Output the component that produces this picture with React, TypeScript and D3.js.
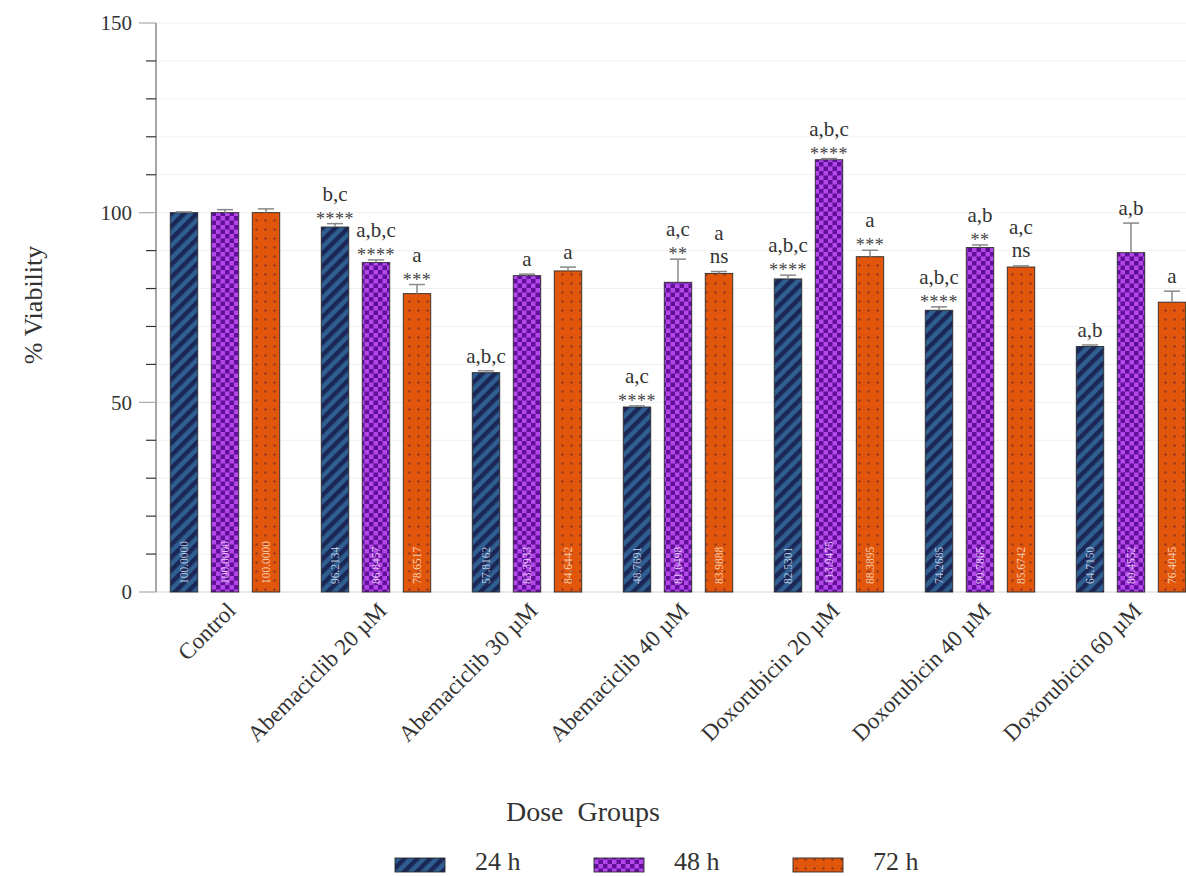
import React from "react";
import * as d3 from "d3";

// Dose groups and time points
const groups = [
  "Control",
  "Abemaciclib 20 µM",
  "Abemaciclib 30 µM",
  "Abemaciclib 40 µM",
  "Doxorubicin 20 µM",
  "Doxorubicin 40 µM",
  "Doxorubicin 60 µM",
];
const timePoints = ["24 h", "48 h", "72 h"];

// Mean % viability per time point
const viability24 = [100.0, 96.2134, 57.8162, 48.7691, 82.5301, 74.2685, 64.715];
const viability48 = [100.0, 86.8457, 83.3933, 81.6498, 113.9475, 90.7865, 89.4552];
const viability72 = [100.0, 78.6517, 84.6442, 83.9888, 88.3895, 85.6742, 76.4045];

// Error (upper whisker) per time point
const error24 = [0.2, 0.9, 0.5, 0.3, 1.0, 0.9, 0.4];
const error48 = [0.8, 0.7, 0.4, 6.1, 0.3, 0.7, 7.8];
const error72 = [1.0, 2.4, 1.0, 0.5, 1.7, 0.3, 2.9];

// Significance letters and stars per time point
const letters24 = ["", "b,c", "a,b,c", "a,c", "a,b,c", "a,b,c", "a,b"];
const stars24 = ["", "****", "", "****", "****", "****", ""];
const letters48 = ["", "a,b,c", "a", "a,c", "a,b,c", "a,b", "a,b"];
const stars48 = ["", "****", "", "**", "****", "**", ""];
const letters72 = ["", "a", "a", "a", "a", "a,c", "a"];
const stars72 = ["", "***", "", "ns", "***", "ns", ""];

const yTicks = [0, 50, 100, 150];

const viability = [viability24, viability48, viability72];
const errors = [error24, error48, error72];
const letterSets = [letters24, letters48, letters72];
const starSets = [stars24, stars48, stars72];
const patternIds = ["p24", "p48", "p72"];
const labelColors = ["#d6deee", "#f3dcff", "#ffe2c8"];

const W = 1186;
const H = 876;
const FONT = "'Liberation Serif', 'Times New Roman', serif";

export default function App() {
  const x0 = d3.scaleBand<string>().domain(groups).range([149.5, 1206.5]).padding(0);
  const x1 = d3
    .scaleBand<string>()
    .domain(timePoints)
    .range([-61.5, 61.5])
    .paddingInner(0.33)
    .paddingOuter(0.165);
  const y = d3.scaleLinear().domain([0, 150]).range([592, 23]);
  const fmt = d3.format(".4f");
  const minorTicks = d3.range(0, 151, 10).filter((t) => t % 50 !== 0);
  const gridTicks = d3.range(10, 151, 10);
  const axisX = 156;

  return (
    <svg
      width={W}
      height={H}
      style={{ position: "absolute", left: 0, top: 0, background: "#fff" }}
      fontFamily={FONT}
    >
      <defs>
        <pattern id="p24" patternUnits="userSpaceOnUse" width={9} height={9} patternTransform="rotate(45)">
          <rect width={9} height={9} fill="#2f5f91" />
          <rect width={4.5} height={9} fill="#1b2756" />
        </pattern>
        <pattern id="p48" patternUnits="userSpaceOnUse" width={9} height={9}>
          <rect width={9} height={9} fill="#b347ea" />
          <rect width={4.5} height={4.5} fill="#62109a" />
          <rect x={4.5} y={4.5} width={4.5} height={4.5} fill="#62109a" />
        </pattern>
        <pattern id="p72" patternUnits="userSpaceOnUse" width={9} height={9}>
          <rect width={9} height={9} fill="#e2560c" />
          <circle cx={4.5} cy={4.5} r={1.2} fill="#8e3a22" />
        </pattern>
      </defs>

      {/* horizontal grid */}
      {gridTicks.map((t) => (
        <line key={"g" + t} x1={axisX} x2={W} y1={y(t)} y2={y(t)} stroke="#f0f0f0" strokeWidth={1} />
      ))}

      {/* x baseline */}
      <line x1={axisX} x2={W} y1={y(0)} y2={y(0)} stroke="#d4d4d4" strokeWidth={1.2} />

      {/* y axis */}
      <line x1={axisX} x2={axisX} y1={y(150)} y2={y(0)} stroke="#777" strokeWidth={1.3} />
      {yTicks.map((t) => (
        <g key={"t" + t}>
          <line x1={axisX - 17} x2={axisX} y1={y(t)} y2={y(t)} stroke="#aaa" strokeWidth={1.2} />
          <text x={132} y={y(t)} dy="0.35em" textAnchor="end" fontSize={21} fill="#333">
            {t}
          </text>
        </g>
      ))}
      {minorTicks.map((t) => (
        <line key={"m" + t} x1={axisX - 10} x2={axisX} y1={y(t)} y2={y(t)} stroke="#333" strokeWidth={1.2} />
      ))}

      {/* bars */}
      {groups.map((g, gi) => (
        <g key={g}>
          {timePoints.map((tp, si) => {
            const v = viability[si][gi];
            const e = errors[si][gi];
            const bx = (x0(g) as number) + x0.bandwidth() / 2 + (x1(tp) as number);
            const bw = x1.bandwidth();
            const cx = bx + bw / 2;
            const top = y(v);
            const cap = y(v + e);
            const lt = letterSets[si][gi];
            const st = starSets[si][gi];
            let letterY = cap - 8;
            if (st === "ns") letterY = cap - 32;
            else if (st) letterY = cap - 23;
            return (
              <g key={tp}>
                <rect x={bx} y={top} width={bw} height={y(0) - top} fill={`url(#${patternIds[si]})`} stroke="#2a2a2a" strokeWidth={0.9} />
                <line x1={cx} x2={cx} y1={top} y2={cap} stroke="#888" strokeWidth={1.5} />
                <line x1={cx - 8} x2={cx + 8} y1={cap} y2={cap} stroke="#888" strokeWidth={1.5} />
                <text
                  transform={`translate(${cx + 4},${y(0) - 8}) rotate(-90)`}
                  fontSize={11.5}
                  fill={labelColors[si]}
                  fillOpacity={0.85}
                >
                  {fmt(v)}
                </text>
                {st === "ns" && (
                  <text x={cx} y={cap - 9} textAnchor="middle" fontSize={21} fill="#333">
                    ns
                  </text>
                )}
                {st && st !== "ns" && (
                  <text x={cx} y={cap + 1} textAnchor="middle" fontSize={18} fill="#444" letterSpacing={0.5}>
                    {st}
                  </text>
                )}
                {lt && (
                  <text x={cx} y={letterY} textAnchor="middle" fontSize={21} fill="#333">
                    {lt}
                  </text>
                )}
              </g>
            );
          })}
          <text
            transform={`translate(${(x0(g) as number) + x0.bandwidth() / 2 + 12},${y(0) + 20}) rotate(-45)`}
            textAnchor="end"
            fontSize={23}
            fill="#333"
          >
            {g}
          </text>
        </g>
      ))}

      {/* axis titles */}
      <text transform="translate(42,305) rotate(-90)" textAnchor="middle" fontSize={26} fill="#333">
        % Viability
      </text>
      <text x={583} y={821} textAnchor="middle" fontSize={28} fill="#333" style={{ whiteSpace: "pre" }}>
        {"Dose  Groups"}
      </text>

      {/* legend */}
      {timePoints.map((tp, si) => {
        const lx = 395 + si * 199;
        return (
          <g key={"l" + tp}>
            <rect x={lx} y={858} width={50} height={14} fill={`url(#${patternIds[si]})`} stroke="#2a2a2a" strokeWidth={0.9} />
            <text x={lx + 80} y={870} fontSize={26} fill="#333">
              {tp}
            </text>
          </g>
        );
      })}
    </svg>
  );
}
